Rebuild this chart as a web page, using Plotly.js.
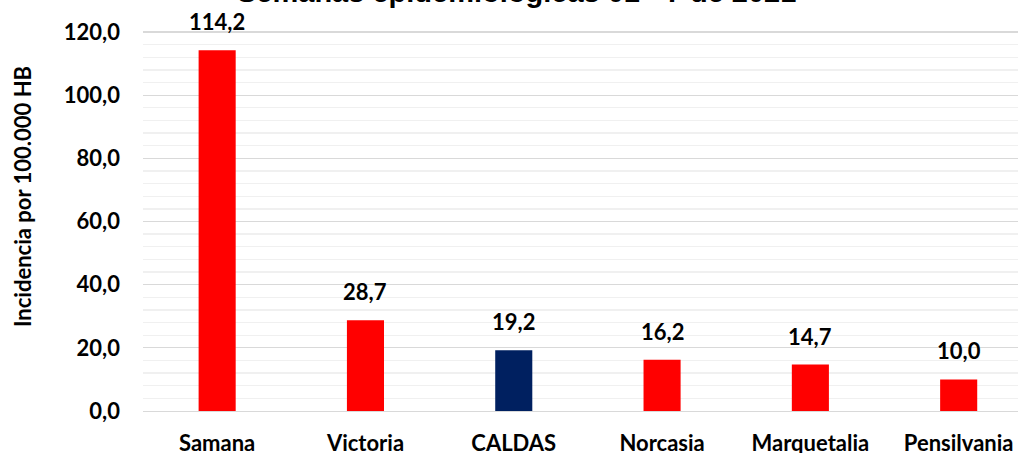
<!DOCTYPE html>
<html>
<head>
<meta charset="utf-8">
<script src="https://cdn.plot.ly/plotly-3.0.1.min.js"></script>
<style>html,body{margin:0;padding:0;background:#fff;}#chart{width:1018px;height:453px;}</style>
</head>
<body>
<div id="chart"></div>
<script>
const categories = ["Samana", "Victoria", "CALDAS", "Norcasia", "Marquetalia", "Pensilvania"];
const values = [114.2, 28.7, 19.2, 16.2, 14.7, 10.0];
const barColors = ["#ff0000", "#ff0000", "#002060", "#ff0000", "#ff0000", "#ff0000"];
const yTickVals = [0, 20, 40, 60, 80, 100, 120];
const titleText = "Semanas epidemiológicas 01 - 7 de 2021";
const yTitleText = "Incidencia por 100.000 HB";

const labelFont = {family: "Lato, 'Open Sans', sans-serif", size: 22, color: "#000", weight: 700};

const trace = {
  type: "bar",
  x: categories,
  y: values,
  marker: {color: barColors},
  width: 0.25,
  hoverinfo: "none"
};

const valueLabels = categories.map((c, i) => ({
  x: c, y: values[i],
  xref: "x", yref: "y",
  text: values[i].toFixed(1).replace(".", ","),
  xanchor: "center", yanchor: "bottom",
  yshift: 13,
  showarrow: false,
  font: labelFont
}));

const layout = {
  width: 1018,
  height: 453,
  margin: {l: 143, r: 0, t: 20, b: 42},
  separators: ",.",
  paper_bgcolor: "#fff",
  plot_bgcolor: "#fff",
  showlegend: false,
  xaxis: {
    range: [-0.5, 5.4],
    showgrid: false,
    showline: true,
    linecolor: "#d9d9d9",
    linewidth: 1,
    ticks: "",
    tickfont: labelFont,
    ticklabelstandoff: 13,
    fixedrange: true
  },
  yaxis: {
    range: [0, 123.8],
    tickvals: yTickVals,
    tickformat: ".1f",
    showgrid: true,
    gridcolor: "#d9d9d9",
    gridwidth: 1.3,
    zeroline: false,
    showline: false,
    ticks: "",
    tickfont: labelFont,
    ticklabelstandoff: 22,
    minor: {dtick: 4, showgrid: true, gridcolor: "#f0f0f0", gridwidth: 1.3, ticks: ""},
    fixedrange: true
  },
  annotations: valueLabels.concat([
    {
      text: "<b>" + titleText + "</b>",
      xref: "paper", yref: "paper",
      x: 0.427, y: 1 + 10 / 391,
      xanchor: "center", yanchor: "bottom",
      showarrow: false,
      font: {family: "'Liberation Sans', Arial, sans-serif", size: 29, color: "#000"}
    },
    {
      text: yTitleText,
      xref: "paper", yref: "paper",
      x: -(143 - 22) / 875, y: (411 - 197) / 391,
      xanchor: "center", yanchor: "middle",
      textangle: -90,
      showarrow: false,
      font: {family: "Lato, 'Open Sans', sans-serif", size: 22, color: "#000", weight: 700}
    }
  ])
};

Plotly.newPlot("chart", [trace], layout, {displayModeBar: false, staticPlot: true});
</script>
</body>
</html>
